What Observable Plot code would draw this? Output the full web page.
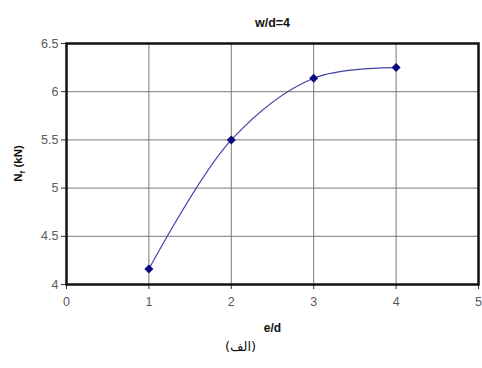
<!DOCTYPE html>
<html>
<head>
<meta charset="utf-8">
<script src="https://cdn.jsdelivr.net/npm/d3@7"></script>
<script src="https://cdn.jsdelivr.net/npm/@observablehq/plot@0.6"></script>
<style>
  body { margin: 0; background: #fff; }
  #chart svg { display: block; }
</style>
</head>
<body>
<div id="chart"></div>
<script>
const ed = [1, 2, 3, 4];
const nf = [4.16, 5.5, 6.14, 6.25];
const xTicks = [0, 1, 2, 3, 4, 5];
const yTicks = [4, 4.5, 5, 5.5, 6, 6.5];
const titleText = "w/d=4";
const xLabel = "e/d";
const caption = "(الف)";

const data = ed.map((e, i) => ({ e, n: nf[i] }));

const plot = Plot.plot({
  width: 482,
  height: 368,
  marginLeft: 66,
  marginRight: 4,
  marginTop: 43,
  marginBottom: 84,
  style: { fontFamily: "Liberation Sans, Arial, sans-serif", background: "#fff" },
  x: { domain: [0, 5] },
  y: { domain: [4, 6.5] },
  marks: [
    Plot.gridX(xTicks.slice(1, -1), { stroke: "#7a7a7a", strokeOpacity: 1, strokeWidth: 1 }),
    Plot.gridY(yTicks.slice(1, -1), { stroke: "#7a7a7a", strokeOpacity: 1, strokeWidth: 1 }),
    Plot.axisX(xTicks, { tickSize: 5, tickPadding: 8, fontSize: 12.5, color: "#5a5a5a", stroke: "#333", label: null, tickFormat: d => String(d) }),
    Plot.axisY(yTicks, { tickSize: 5, tickPadding: 3, fontSize: 12.5, color: "#5a5a5a", stroke: "#333", label: null, tickFormat: d => String(d) }),
    Plot.frame({ stroke: "#111", strokeWidth: 2.5 }),
    Plot.line(data, { x: "e", y: "n", curve: "catmull-rom", stroke: "#4040a8", strokeWidth: 1.2 }),
    Plot.dot(data, { x: "e", y: "n", symbol: "square", rotate: 45, r: 3.6, fill: "#0a0a80", stroke: "none" }),
    Plot.text([titleText], { frameAnchor: "top", dy: -25, fontSize: 12.5, fontWeight: "bold", fill: "#111" }),
    Plot.text([xLabel], { frameAnchor: "bottom", dy: 47, fontSize: 12, fontWeight: "bold", fill: "#111" }),
    Plot.text([caption], { frameAnchor: "bottom", dx: -32, dy: 66, fontSize: 13, fill: "#111", fontFamily: "DejaVu Sans, sans-serif" })
  ]
});

const svg = d3.select(plot);
const yl = svg.append("text")
  .attr("transform", "translate(22,163.5) rotate(-90)")
  .attr("text-anchor", "middle")
  .attr("font-family", "Liberation Sans, Arial, sans-serif")
  .attr("font-size", 11.5)
  .attr("font-weight", "bold")
  .attr("fill", "#111");
yl.append("tspan").text("N");
yl.append("tspan").attr("font-size", 8).attr("dy", 3).text("f");
yl.append("tspan").attr("dy", -3).text(" (kN)");

document.getElementById("chart").appendChild(plot);
</script>
</body>
</html>
